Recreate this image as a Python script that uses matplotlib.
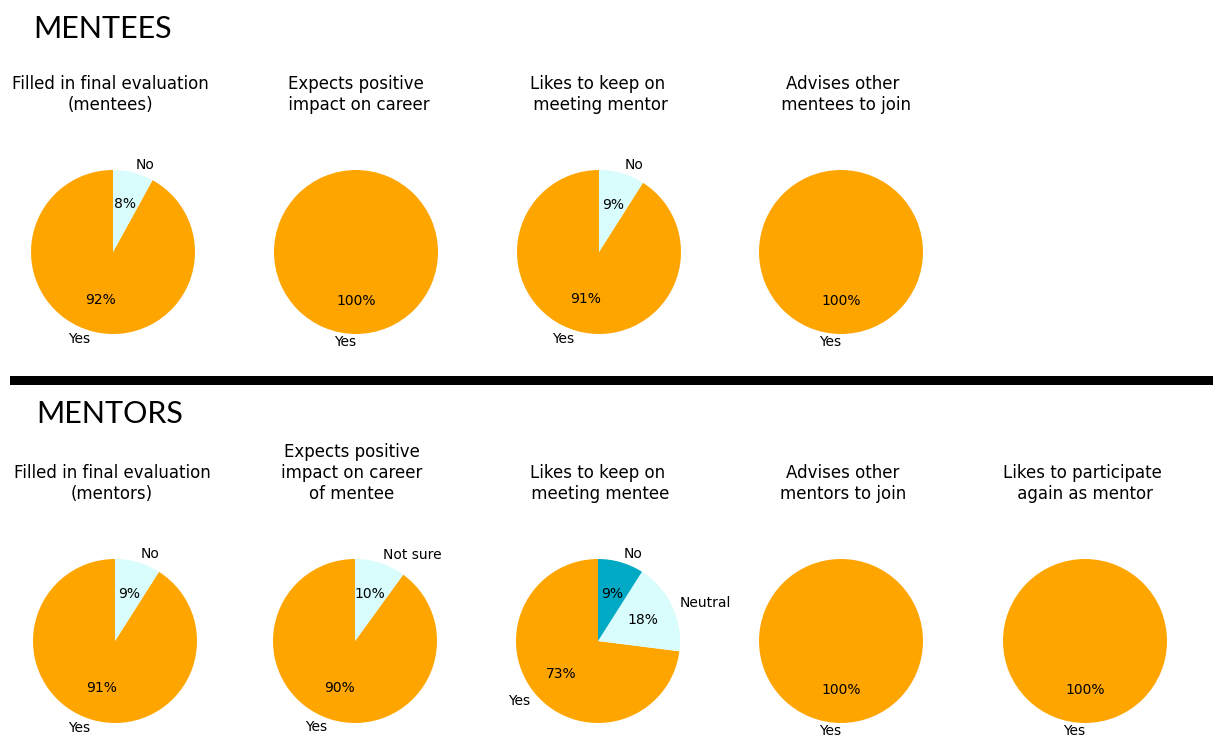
import matplotlib.pyplot as plt
from matplotlib.patches import Rectangle

W, H = 1213, 735

# data
mentee_titles = ["Filled in final evaluation\n(mentees)",
                 "Expects positive\n impact on career",
                 "Likes to keep on\n meeting mentor",
                 "Advises other\n mentees to join"]
mentee_labels = [["Yes", "No"], ["Yes"], ["Yes", "No"], ["Yes"]]
mentee_values = [[92, 8], [100], [91, 9], [100]]

mentor_titles = ["Filled in final evaluation\n(mentors)",
                 "Expects positive\nimpact on career\nof mentee",
                 "Likes to keep on\n meeting mentee",
                 "Advises other\nmentors to join",
                 "Likes to participate\n again as mentor"]
mentor_labels = [["Yes", "No"], ["Yes", "Not sure"], ["Yes", "Neutral", "No"], ["Yes"], ["Yes"]]
mentor_values = [[91, 9], [90, 10], [73, 18, 9], [100], [100]]

colors = ['#ffa500', '#d9fcfc', '#00a9c4']

fig = plt.figure(figsize=(W / 100, H / 100), dpi=100)

R = 82  # pie radius in px


def draw_row(titles, labels, values, xs, cy, title_xs, title_y):
	for i in range(len(titles)):
		side = 2.5 * R
		ax = fig.add_axes([(xs[i] - side / 2) / W, 1 - (cy + side / 2) / H, side / W, side / H])
		wedges, texts, autotexts = ax.pie(values[i], labels=labels[i], colors=colors[:len(values[i])],
										  autopct='%1.0f%%', startangle=90, counterclock=True,
										  textprops={'fontsize': 10})
		# label straight below the pie sits to the left, like the original
		for t in texts:
			if abs(t.get_position()[0]) < 1e-6:
				t.set_ha('right')
		ax.set_xlim(-1.25, 1.25)
		ax.set_ylim(-1.25, 1.25)
		ax.axis('off')
		fig.text(title_xs[i] / W, 1 - title_y / H, titles[i], ha='center', va='bottom',
				 multialignment='center', fontsize=12)


draw_row(mentee_titles, mentee_labels, mentee_values,
		 [113, 356, 599, 841], 252, [110, 356, 598, 843], 114)
draw_row(mentor_titles, mentor_labels, mentor_values,
		 [115, 355, 598, 841, 1085], 641, [112, 352, 598, 843, 1082], 503)

# section headers
fig.text(33 / W, 1 - 29 / H, "MENTEES", fontsize=22, family='Lato', va='center', ha='left')
fig.text(36 / W, 1 - 414 / H, "MENTORS", fontsize=22, family='Lato', va='center', ha='left')

# separator
fig.add_artist(Rectangle((10 / W, 1 - 385 / H), 1 - 10 / W, 9 / H, transform=fig.transFigure,
						 facecolor='black', edgecolor='none'))

fig.savefig('out.png', dpi=100)
